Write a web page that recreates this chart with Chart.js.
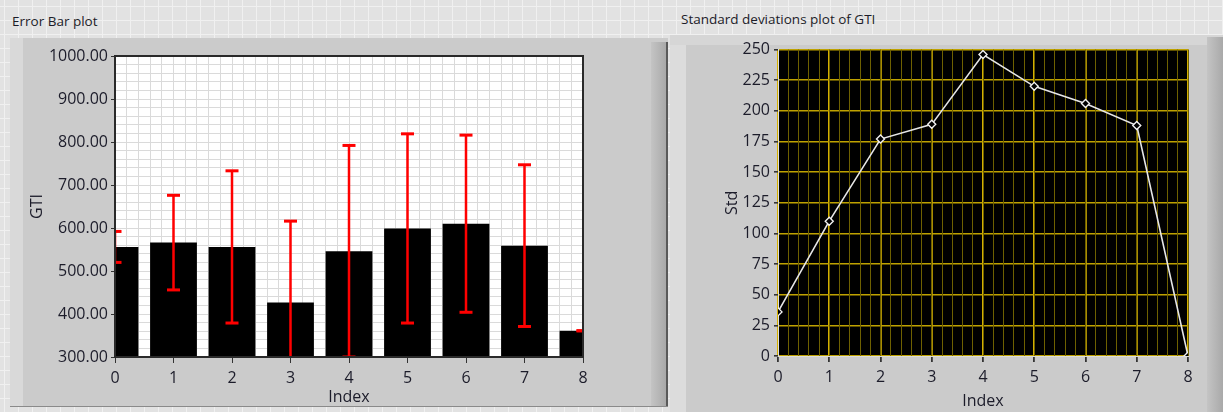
<!DOCTYPE html>
<html>
<head>
<meta charset="utf-8">
<script src="https://cdn.jsdelivr.net/npm/chart.js@4.4.1/dist/chart.umd.min.js"></script>
<style>
  html, body { margin: 0; padding: 0; }
  body {
    width: 1223px; height: 412px; overflow: hidden; position: relative;
    background-color: #e2e2e2;
    background-image:
      linear-gradient(#f0f0f0 1px, transparent 1px),
      linear-gradient(90deg, #f0f0f0 1px, transparent 1px);
    background-size: 14px 14px;
    background-position: 4px 6px;
    font-family: "Open Sans", "Noto Sans", sans-serif;
  }
  .title { position: absolute; font-size: 13.5px; color: #1c1c28; white-space: nowrap; }
  .panel { position: absolute; background: #cbcbcb; }
  .hl { position: absolute; background: #d9d9d9; }
  .bevel { position: absolute; background: linear-gradient(90deg, #c4c4c4, #a9a9a9); }
  .edge { position: absolute; background: #5a5a5a; }
  canvas { position: absolute; }
</style>
</head>
<body>
  <div class="title" style="left:12px; top:12px;">Error Bar plot</div>
  <div class="title" style="left:681px; top:10px;">Standard deviations plot of GTI</div>

  <!-- left panel frame -->
  <div class="panel" style="left:10px; top:38px; width:658px; height:369px;"></div>
  <div class="hl" style="left:10px; top:38px; width:13px; height:369px;"></div>
  <div class="bevel" style="left:651px; top:42px; width:15px; height:365px;"></div>
  <div class="edge" style="left:666px; top:42px; width:2px; height:365px;"></div>
  <div class="edge" style="left:10px; top:406px; width:658px; height:1px; background:#8a8a8a;"></div>

  <!-- right panel frame -->
  <div class="panel" style="left:670px; top:35px; width:553px; height:377px;"></div>
  <div class="hl" style="left:670px; top:35px; width:16px; height:377px; background:#dcdcdc;"></div>
  <div class="hl" style="left:670px; top:35px; width:553px; height:10px; background:#d6d6d6;"></div>
  <div class="bevel" style="left:1207px; top:37px; width:16px; height:375px;"></div>

  <canvas id="errorChart" width="656" height="369" style="left:10px; top:38px;"></canvas>
  <canvas id="stdChart" width="551" height="376" style="left:672px; top:36px;"></canvas>

<script>
// Sample index positions
const indexLabels = [0, 1, 2, 3, 4, 5, 6, 7, 8];
// Mean GTI per index
const gtiMean = [556, 566, 556, 427, 546, 599, 610, 559, 361];
// Standard deviation of GTI per index
const gtiStd = [36, 110, 177, 189, 246, 220, 206, 188, 0];
// Axis tick settings
const gtiAxis = { min: 300, max: 1000, step: 100, minor: 20 };
const stdAxis = { min: 0, max: 250, step: 25 };
const indexAxis = { min: 0, max: 8, step: 1, minor: 0.2 };

const tickFont = { family: '"Open Sans", "Noto Sans", sans-serif', size: 16 };
const titleFont = { family: '"Open Sans", "Noto Sans", sans-serif', size: 16 };
const textColor = '#1c1c2a';

// Fills the plot area and outlines it
const plotFrame = {
  id: 'plotFrame',
  beforeDraw(chart, args, opts) {
    const { ctx, chartArea: a } = chart;
    ctx.save();
    ctx.fillStyle = opts.fill;
    ctx.fillRect(a.left, a.top, a.width, a.height);
    ctx.restore();
  },
  afterDraw(chart, args, opts) {
    if (!opts.stroke) return;
    const { ctx, chartArea: a } = chart;
    ctx.save();
    ctx.strokeStyle = opts.stroke;
    ctx.lineWidth = opts.lineWidth || 1;
    ctx.strokeRect(a.left, a.top, a.width, a.height);
    ctx.restore();
  }
};

// Minor grid scale: only its grid lines are drawn
function minorScale(axis, position, min, max, step, color) {
  return {
    type: 'linear', axis, position, min, max,
    offset: false,
    z: -1,
    ticks: { display: false, stepSize: step },
    grid: { color, lineWidth: 1, drawTicks: false, offset: false },
    border: { display: false },
    afterFit(scale) { if (axis === 'x') scale.height = 0; else scale.width = 0; }
  };
}

// Error bar segments: low and high end per index, separated by gaps
const errorPoints = [];
indexLabels.forEach((x, i) => {
  errorPoints.push({ x, y: gtiMean[i] - gtiStd[i] });
  errorPoints.push({ x, y: gtiMean[i] + gtiStd[i] });
  errorPoints.push({ x, y: null });
});

new Chart(document.getElementById('errorChart'), {
  type: 'bar',
  data: {
    datasets: [
      {
        type: 'line',
        order: 0,
        xAxisID: 'x', yAxisID: 'y',
        data: errorPoints,
        borderColor: '#ff0000',
        borderWidth: 2.5,
        spanGaps: false,
        pointStyle: 'line',
        pointRadius: 6.5,
        pointBorderWidth: 3,
        pointBorderColor: '#ff0000',
        pointBackgroundColor: '#ff0000'
      },
      {
        type: 'bar',
        order: 1,
        xAxisID: 'x', yAxisID: 'y',
        data: indexLabels.map((x, i) => ({ x, y: gtiMean[i] })),
        backgroundColor: '#000000',
        borderWidth: 0,
        categoryPercentage: 0.8,
        barPercentage: 1.0
      }
    ]
  },
  options: {
    responsive: false,
    animation: false,
    devicePixelRatio: 1,
    layout: { padding: { left: 0, top: 18, right: 83, bottom: 0 } },
    plugins: {
      legend: { display: false },
      tooltip: { enabled: false },
      plotFrame: { fill: '#ffffff', stroke: '#2a2a2a', lineWidth: 2 }
    },
    scales: {
      x: {
        type: 'linear',
        position: 'bottom',
        min: indexAxis.min, max: indexAxis.max,
        offset: false,
        ticks: { stepSize: indexAxis.step, color: textColor, font: tickFont, padding: 6, maxRotation: 0 },
        grid: { color: '#9a9a9a', lineWidth: 1, offset: false, tickColor: '#333333', tickLength: 6 },
        border: { color: '#2a2a2a', width: 2 },
        title: { display: true, text: 'Index', color: textColor, font: titleFont, padding: { top: 0, bottom: 0.4 } },
        afterFit(scale) { scale.height = 50; }
      },
      y: {
        type: 'linear',
        position: 'left',
        min: gtiAxis.min, max: gtiAxis.max,
        ticks: { stepSize: gtiAxis.step, color: textColor, font: tickFont, padding: 3,
                 callback: v => v.toFixed(2) },
        grid: { color: '#9a9a9a', lineWidth: 1, tickColor: '#333333', tickLength: 4 },
        border: { color: '#2a2a2a', width: 2 },
        title: { display: true, text: 'GTI', color: textColor, font: titleFont, padding: { top: 17.4, bottom: 0 } },
        afterFit(scale) { scale.width = 105; }
      },
      xMinor: minorScale('x', 'bottom', indexAxis.min, indexAxis.max, indexAxis.minor, '#dadada'),
      yMinor: minorScale('y', 'left', gtiAxis.min, gtiAxis.max, gtiAxis.minor, '#dadada')
    }
  },
  plugins: [plotFrame]
});

new Chart(document.getElementById('stdChart'), {
  type: 'line',
  data: {
    datasets: [{
      xAxisID: 'x', yAxisID: 'y',
      data: indexLabels.map((x, i) => ({ x, y: gtiStd[i] })),
      borderColor: '#e6e6e6',
      borderWidth: 1.6,
      pointStyle: 'rectRot',
      pointRadius: 4,
      pointBorderWidth: 1.4,
      pointBorderColor: '#f2f2f2',
      pointBackgroundColor: '#000000',
      tension: 0
    }]
  },
  options: {
    responsive: false,
    animation: false,
    devicePixelRatio: 1,
    layout: { padding: { left: 0, top: 11, right: 35, bottom: 0 } },
    plugins: {
      legend: { display: false },
      tooltip: { enabled: false },
      plotFrame: { fill: '#000000', stroke: null }
    },
    scales: {
      x: {
        type: 'linear',
        position: 'bottom',
        min: indexAxis.min, max: indexAxis.max,
        ticks: { stepSize: indexAxis.step, color: textColor, font: tickFont, padding: 6, maxRotation: 0 },
        grid: { color: '#d4b000', lineWidth: 1.8, tickColor: '#333333', tickLength: 6 },
        border: { color: '#dddddd', width: 1 },
        title: { display: true, text: 'Index', color: textColor, font: titleFont, padding: { top: 0, bottom: 1.4 } },
        afterFit(scale) { scale.height = 56; }
      },
      y: {
        type: 'linear',
        position: 'left',
        min: stdAxis.min, max: stdAxis.max,
        ticks: { stepSize: stdAxis.step, color: textColor, font: tickFont, padding: 4 },
        grid: { color: '#bfa200', lineWidth: 1.6, tickColor: '#333333', tickLength: 4 },
        border: { color: '#dddddd', width: 1 },
        title: { display: true, text: 'Std', color: textColor, font: titleFont, padding: { top: 50.4, bottom: 0 } },
        afterFit(scale) { scale.width = 106; }
      },
      xMinor: minorScale('x', 'bottom', indexAxis.min, indexAxis.max, indexAxis.minor, '#6e6000')
    }
  },
  plugins: [plotFrame]
});
</script>
</body>
</html>
